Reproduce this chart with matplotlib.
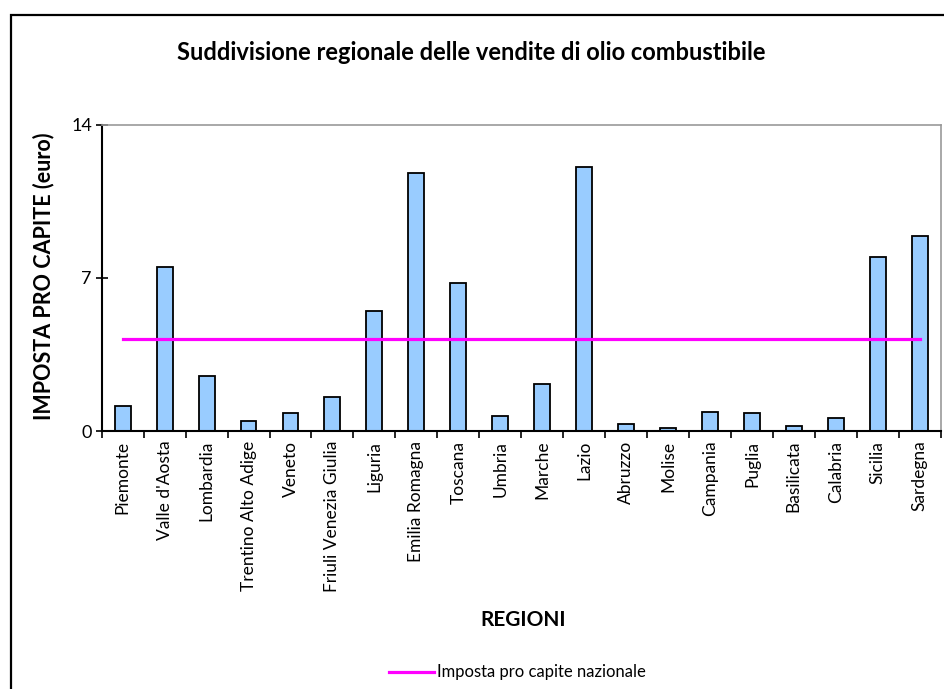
import matplotlib
matplotlib.use("Agg")
import matplotlib.pyplot as plt
from matplotlib.patches import Rectangle
from matplotlib.lines import Line2D

plt.rcParams['font.family'] = ['Lato', 'DejaVu Sans']

regions = ["Piemonte", "Valle d'Aosta", "Lombardia", "Trentino Alto Adige", "Veneto",
           "Friuli Venezia Giulia", "Liguria", "Emilia Romagna", "Toscana", "Umbria",
           "Marche", "Lazio", "Abruzzo", "Molise", "Campania", "Puglia", "Basilicata",
           "Calabria", "Sicilia", "Sardegna"]
imposta = [1.13, 7.49, 2.53, 0.46, 0.82, 1.57, 5.48, 11.8, 6.74, 0.67,
           2.15, 12.07, 0.31, 0.15, 0.88, 0.82, 0.24, 0.59, 7.95, 8.89]
nazionale = 4.21
yticks = [0, 7, 14]

fig = plt.figure(figsize=(9.44, 6.89), dpi=100)
ax = fig.add_axes([101.7/944, 1 - 431/689, (940.7 - 101.7)/944, (431 - 124.5)/689])

x = list(range(len(regions)))
ax.bar(x, imposta, width=0.38, color='#99CCFF', edgecolor='black', linewidth=1.3, zorder=2)
ax.plot([x[0], x[-1]], [nazionale, nazionale], color='#FF00FF', linewidth=2.3, zorder=3)

ax.set_xlim(-0.5, len(regions) - 0.5)
ax.set_ylim(0, 14)
ax.set_yticks(yticks)
ax.set_yticklabels([str(v) for v in yticks], fontsize=13)
ax.set_xticks([i - 0.5 for i in range(len(regions) + 1)], minor=False)
ax.set_xticklabels([])
ax.set_xticks(x, minor=True)
ax.set_xticklabels(regions, minor=True, rotation=90, fontsize=12.5)
ax.tick_params(axis='x', which='minor', length=0, pad=7)
ax.tick_params(axis='x', which='major', direction='out', length=5, width=1.2)
ax.tick_params(axis='y', direction='inout', length=8, width=1.2, pad=3)

for s in ['left', 'bottom']:
    ax.spines[s].set_color('black')
    ax.spines[s].set_linewidth(1.5)
for s in ['top', 'right']:
    ax.spines[s].set_color('#999999')
    ax.spines[s].set_linewidth(1.2)

ax.set_ylabel('IMPOSTA PRO CAPITE (euro)', fontsize=15.5, fontweight='bold')
ax.yaxis.set_label_coords((54 - 101.7) / 839, 0.505)
fig.text(523/944, 1 - 620/689, 'REGIONI', fontsize=15, fontweight='bold', ha='center', va='center')
fig.text(471/944, 1 - 53/689, 'Suddivisione regionale delle vendite di olio combustibile',
         fontsize=17, fontweight='bold', ha='center', va='center')

# legend
fig.add_artist(Line2D([389/944, 434/944], [1 - 672/689, 1 - 672/689], color='#FF00FF', linewidth=2.3))
fig.text(437/944, 1 - 672/689, 'Imposta pro capite nazionale', fontsize=12, ha='left', va='center')

# outer frame
fig.add_artist(Rectangle((11/944, -0.05), 1.2, (689 - 15)/689 + 0.05, transform=fig.transFigure,
                         fill=False, edgecolor='black', linewidth=1.6))

fig.savefig('out.png', dpi=100)
